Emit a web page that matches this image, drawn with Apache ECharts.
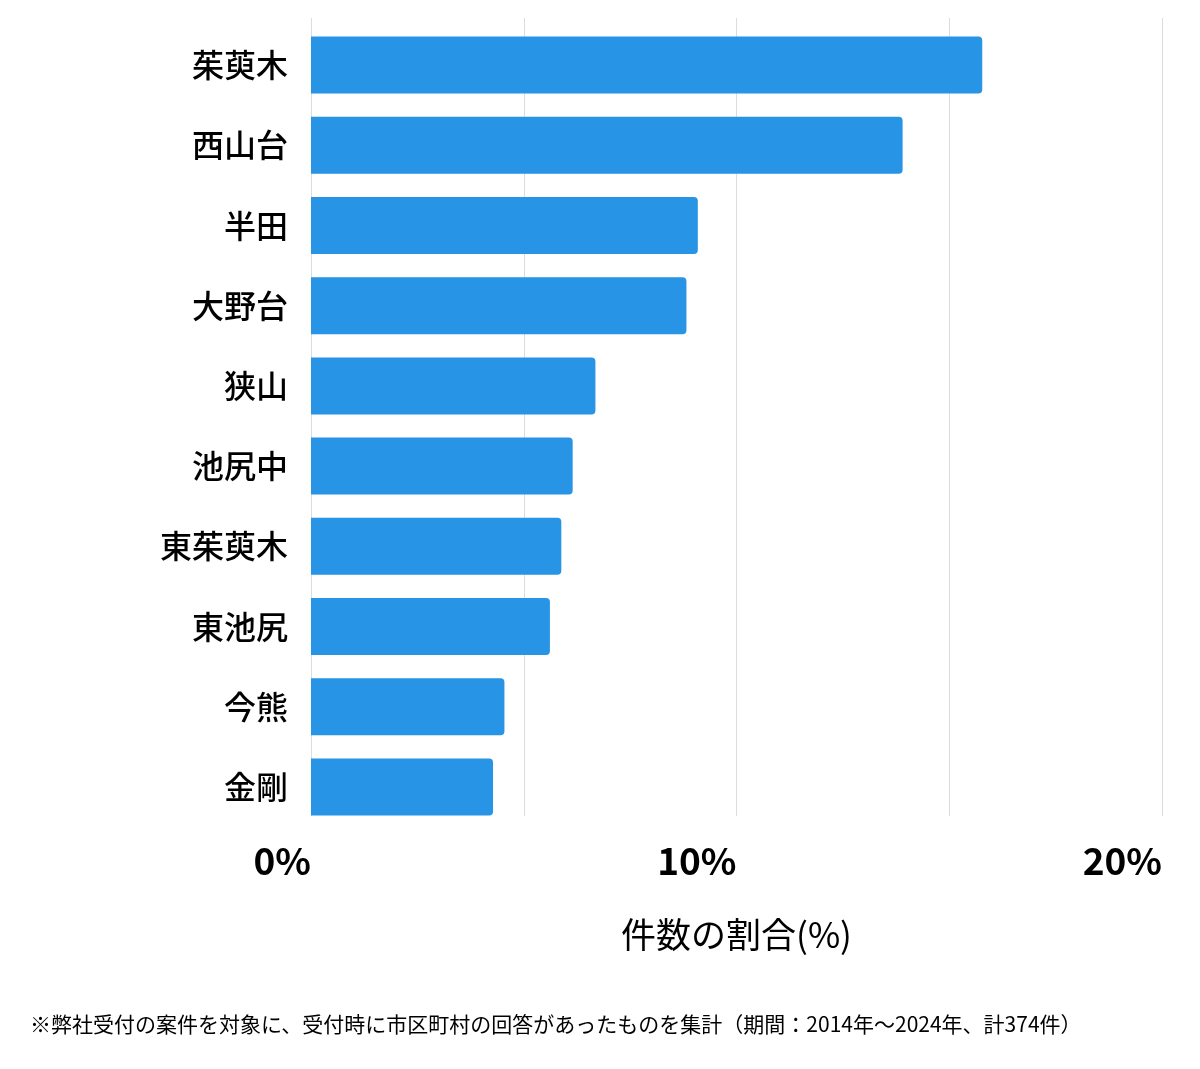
<!DOCTYPE html>
<html><head><meta charset="utf-8">
<script src="https://cdn.jsdelivr.net/npm/echarts@6/dist/echarts.min.js"></script>
<style>html,body{margin:0;padding:0;background:#fff}#c{width:1200px;height:1069px}</style>
</head><body><div id="c"></div>
<script>
const categories = ['茱萸木','西山台','半田','大野台','狭山','池尻中','東茱萸木','東池尻','今熊','金剛'];
const counts = [59, 52, 34, 33, 25, 23, 22, 21, 17, 16];
const total = 374;
const shares = counts.map(c => c / total * 100);
const xTicks = [0, 10, 20];
const axisTitle = '件数の割合(%)';
const footnote = '※弊社受付の案件を対象に、受付時に市区町村の回答があったものを集計（期間：2014年〜2024年、計374件）';

const FONT = '"Noto Sans CJK JP","Noto Sans",sans-serif';
const chart = echarts.init(document.getElementById('c'), null, {renderer:'canvas'});
chart.setOption({
  backgroundColor:'#fff',
  textStyle:{fontFamily:FONT},
  animation:false,
  grid:[
    {left:311, right:38, top:18, bottom:253, containLabel:false},
    {left:311, right:38, top:25, bottom:242, containLabel:false}
  ],
  xAxis:[
    {gridIndex:0, type:'value', min:0, max:20, interval:5,
     axisLine:{show:false}, axisTick:{show:false}, axisLabel:{show:false},
     splitLine:{show:true, lineStyle:{color:'#dcdcdc', width:1}}},
    {gridIndex:1, type:'value', min:xTicks[0], max:xTicks[xTicks.length-1], interval:10,
     axisLine:{show:false}, axisTick:{show:false}, splitLine:{show:false},
     axisLabel:{show:true, formatter: v => v + '%', fontSize:37, fontWeight:'bold', color:'#000',
       align:'right', margin:15, fontFamily:FONT},
     name:axisTitle, nameLocation:'middle', nameGap:90,
     nameTextStyle:{fontSize:35, color:'#000', fontFamily:FONT}}
  ],
  yAxis:[
    {gridIndex:0, type:'value', show:false},
    {gridIndex:1, type:'category', data:categories, inverse:true,
     axisLine:{show:false}, axisTick:{show:false},
     axisLabel:{fontSize:32, color:'#000', margin:23, fontWeight:500, fontFamily:FONT}}
  ],
  graphic:[
    {type:'line', shape:{x1:311.5,y1:18,x2:311.5,y2:816}, style:{stroke:'#b8b8b8', lineWidth:1}},
    {type:'text', left:30, top:1014, style:{text:footnote, fontSize:21, fill:'#000', fontFamily:FONT}}
  ],
  series:[{
    type:'bar', xAxisIndex:1, yAxisIndex:1, data:shares, barWidth:57,
    itemStyle:{color:'#2794e5', borderRadius:[0,4,4,0]}
  }]
});
</script></body></html>
